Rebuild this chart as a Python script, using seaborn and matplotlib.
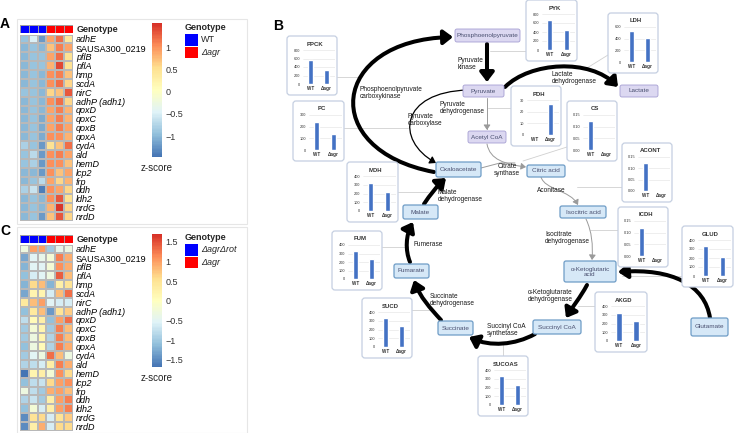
import numpy as np
import pandas as pd
import matplotlib
matplotlib.use("Agg")
import matplotlib.pyplot as plt
import seaborn as sns
from matplotlib.colors import ListedColormap, LinearSegmentedColormap
from matplotlib.patches import FancyBboxPatch, FancyArrowPatch, Rectangle
from matplotlib.path import Path

sns.set_theme(style="white")
plt.rcParams["font.family"] = ["Liberation Sans", "DejaVu Sans"]

# ---------------- data ----------------
genes = ["adhE", "SAUSA300_0219", "pflB", "pflA", "hmp", "scdA", "nirC",
         "adhP (adh1)", "qoxD", "qoxC", "qoxB", "qoxA", "cydA", "ald", "hemD",
         "lcp2", "frp", "ddh", "ldh2", "nrdG", "nrdD"]

# panel A z-scores: WT x3, Δagr x3
zscore_a = [
    [-0.9, -0.5, -1.2, 0.9, 1.2, 0.4],
    [-1.0, -0.9, -1.0, 0.7, 1.1, 0.9],
    [-1.0, -0.9, -0.9, 0.9, 1.2, 0.5],
    [-1.0, -0.9, -0.9, 0.8, 1.4, 0.5],
    [-1.0, -0.9, -1.0, 1.0, 1.1, 0.7],
    [-1.0, -0.9, -1.0, 1.0, 1.2, 0.6],
    [-0.9, -0.9, -1.0, 0.6, 0.7, 1.3],
    [-1.0, -0.9, -1.0, 1.0, 1.2, 0.6],
    [-1.0, -0.9, -1.0, 0.9, 1.1, 0.8],
    [-1.0, -0.9, -1.1, 0.9, 1.1, 0.8],
    [-1.0, -0.9, -1.1, 0.9, 1.1, 0.9],
    [-1.0, -0.9, -1.1, 1.0, 1.0, 0.8],
    [-0.8, -0.9, -1.2, 0.5, 0.7, 1.2],
    [-0.9, -0.7, -1.2, 1.0, 1.1, 0.9],
    [-0.9, -0.8, -1.2, 1.0, 1.0, 0.7],
    [-1.0, -1.0, -1.2, 1.0, 0.7, 0.9],
    [-1.0, -0.9, -0.7, 0.9, 0.6, 0.8],
    [-0.8, -0.6, -1.4, 1.0, 0.9, 0.6],
    [-1.0, -0.9, -1.0, 1.0, 1.3, 0.5],
    [-1.0, -0.9, -1.0, 0.8, 1.5, 0.6],
    [-1.0, -0.9, -1.2, 0.7, 1.3, 0.6],
]
groups_a = ["WT", "Δagr"]

# panel C z-scores: ΔagrΔrot x3, Δagr x3
zscore_c = [
    [-0.3, 1.0, 1.0, -1.0, -0.4, -0.3],
    [-1.3, -0.5, -0.4, -0.2, 1.2, 0.9],
    [-1.2, -0.5, -0.5, -0.2, 1.1, 0.9],
    [-1.1, -0.6, -0.5, -0.3, 1.4, 0.8],
    [-1.2, 0.6, 0.8, -1.2, 0.3, 0.5],
    [-1.3, 0.2, 0.2, -0.6, 0.8, 1.3],
    [0.4, 0.8, 1.0, -0.5, -0.6, -0.6],
    [-1.1, 0.4, 0.8, -1.4, 0.5, 0.7],
    [-0.8, 0.1, 0.3, -1.1, 1.0, 1.3],
    [-1.0, -0.2, 0.2, -1.0, 1.2, 0.8],
    [-1.0, -0.3, 0.2, -0.9, 1.2, 0.8],
    [-1.1, -0.3, 0.1, -0.9, 1.2, 0.9],
    [-1.0, -0.5, -0.3, 1.3, 0.8, -0.3],
    [-0.9, -0.8, -0.6, 0.3, 1.2, 0.9],
    [-1.7, 0.2, 0.3, -0.2, 1.1, 0.6],
    [-1.1, -0.8, -0.7, 0.6, 1.0, 1.1],
    [-0.3, -0.8, -1.0, 0.9, 1.0, 0.8],
    [-0.9, -0.7, -1.0, 0.3, 1.0, 1.2],
    [-1.1, -0.2, -0.6, 0.3, 1.0, 1.2],
    [-1.5, 0.5, 0.6, -0.6, 0.5, 0.7],
    [-1.5, 0.3, 0.9, -0.6, 0.6, 0.6],
]
groups_c = ["ΔagrΔrot", "Δagr"]

# enzyme activity insets (WT vs Δagr)
enzymes = ["PPCK", "PC", "MDH", "FUM", "SUCD", "SUCOAS", "AKGD", "GLUD",
           "ICDH", "ACONT", "CS", "PDH", "PYK", "LDH"]
activity_wt = [555, 240, 320, 330, 326, 329, 322, 330, 0.122, 0.124, 0.124, 0, 660, 530]
activity_agr = [338, 137, 222, 232, 235, 232, 232, 206, 0, 0, 0, 27, 434, 406]
axis_max = [800, 300, 400, 400, 400, 400, 400, 400, 0.15, 0.15, 0.15, 30, 800, 600]
axis_step = [200, 100, 100, 100, 100, 100, 100, 100, 0.05, 0.05, 0.05, 10, 200, 200]
bar_labels = ["WT", "Δagr"]

# pheatmap default palette
heat_colors = ["#4575B4", "#91BFDB", "#E0F3F8", "#FFFFBF", "#FEE090", "#FC8D59", "#D73027"]
heat_cmap = LinearSegmentedColormap.from_list("pheat", heat_colors, N=100)

# ---------------- layout (pixels) ----------------
W, H = 734, 433
inset_boxes = {
    "PPCK": (287, 36, 50, 59), "PC": (293, 101, 51, 60), "MDH": (347, 162, 51, 60),
    "FUM": (332, 231, 50, 59), "SUCD": (362, 298, 50, 60), "SUCOAS": (478, 356, 50, 60),
    "AKGD": (595, 292, 52, 60), "GLUD": (682, 226, 51, 61), "ICDH": (618, 207, 50, 60),
    "ACONT": (622, 143, 50, 59), "CS": (567, 101, 50, 60), "PDH": (511, 86, 50, 60),
    "PYK": (526, 0, 51, 61), "LDH": (608, 13, 50, 60),
}
nodes = [
    ("Phosphoenolpyruvate", 455, 29, 520, 42, "p"),
    ("Pyruvate", 463, 85, 504, 97, "p"),
    ("Lactate", 620, 85, 658, 97, "p"),
    ("Acetyl CoA", 468, 131, 506, 143, "p"),
    ("Oxaloacetate", 436, 162, 481, 177, "b"),
    ("Citric acid", 527, 165, 565, 177, "b"),
    ("Malate", 403, 205, 438, 219, "b"),
    ("Isocitric acid", 560, 206, 606, 218, "b"),
    ("Fumarate", 394, 264, 429, 278, "b"),
    ("α-Ketoglutaric\nacid", 564, 261, 616, 282, "b"),
    ("Succinate", 438, 321, 473, 335, "b"),
    ("Succinyl CoA", 533, 320, 581, 334, "b"),
    ("Glutamate", 691, 318, 728, 336, "b"),
]
reactions = [
    ("Pyruvate\nkinase", 458, 64, "left"),
    ("Lactate\ndehydrogenase", 552, 78, "left"),
    ("Phosphoenolpyruvate\ncarboxykinase", 360, 93, "left"),
    ("Pyruvate\ndehydrogenase", 440, 108, "left"),
    ("Pyruvate\ncarboxylase", 408, 120, "left"),
    ("Citrate\nsynthase", 507, 170, "center"),
    ("Aconitase", 537, 190, "left"),
    ("Isocitrate\ndehydrogenase", 545, 238, "left"),
    ("α-Ketoglutarate\ndehydrogenase", 528, 296, "left"),
    ("Succinyl CoA\nsynthetase", 487, 330, "left"),
    ("Succinate\ndehydrogenase", 430, 300, "left"),
    ("Fumerase", 413, 244, "left"),
    ("Malate\ndehydrogenase", 438, 196, "left"),
]


def frect(x, y, w, h):
    return [x / W, 1 - (y + h) / H, w / W, h / H]


fig = plt.figure(figsize=(W / 100, H / 100), dpi=100)
fig.patch.set_facecolor("white")

ov = fig.add_axes([0, 0, 1, 1])
ov.set_xlim(0, W)
ov.set_ylim(H, 0)
ov.axis("off")

# faint panel frames
for y0, hh in [(19, 205), (227, 206)]:
    ov.add_patch(Rectangle((17, y0), 230, hh, fill=False, ec="#e6e6e6", lw=0.8))

for letter, x, y in [("A", 5, 24), ("C", 5, 231), ("B", 278, 26)]:
    ov.text(x, y, letter, fontsize=10, weight="bold", ha="center", va="center", color="black")


# ---------------- heatmaps ----------------
def draw_heatmap(vals, groups, top, cb_top, cb_h, vmin, vmax, ticks, ticklabels):
    ann = fig.add_axes(frect(20, top, 52.5, 7.5))
    sns.heatmap(np.array([[0, 0, 0, 1, 1, 1]]), ax=ann, cmap=ListedColormap(["#0000FF", "#FF0000"]),
                vmin=0, vmax=1, cbar=False, linewidths=0.4, linecolor="#a0a0a0",
                xticklabels=False, yticklabels=False)
    ov.text(77, top + 4, "Genotype", fontsize=6.5, weight="bold", va="center", ha="left")

    ax = fig.add_axes(frect(20, top + 9.5, 52.5, 186.5))
    cax = fig.add_axes(frect(152, cb_top, 9.5, cb_h))
    df = pd.DataFrame(vals, index=genes)
    sns.heatmap(df, ax=ax, cmap=heat_cmap, vmin=vmin, vmax=vmax, cbar_ax=cax,
                linewidths=0.3, linecolor="#b8b8b8", xticklabels=False, yticklabels=True)
    ax.tick_params(axis="y", left=False, right=False, labelleft=False, labelright=True,
                   length=0, pad=2.5, labelsize=6.5, labelcolor="black")
    for t in ax.get_yticklabels():
        t.set_rotation(0)
        t.set_style("normal" if t.get_text().startswith("SAUSA") else "italic")
    cbar = ax.collections[0].colorbar
    cbar.outline.set_visible(False)
    cbar.set_ticks(ticks)
    cbar.set_ticklabels(ticklabels)
    cax.tick_params(length=0, labelsize=6.5, colors="#333333", pad=3)
    ov.text(157, cb_top + cb_h + 11, "z-score", fontsize=7, ha="center", va="center", color="#222222")

    # legend
    ov.text(185, top + 2, "Genotype", fontsize=6.5, weight="bold", va="center", ha="left")
    for i, (lab, col) in enumerate(zip(groups, ["#0000FF", "#FF0000"])):
        yy = top + 9 + i * 12.5
        ov.add_patch(Rectangle((185, yy), 13, 11.5, fc=col, ec="none"))
        ov.text(201, yy + 5.8, lab, fontsize=6.5, va="center", ha="left",
                style="normal" if lab == "WT" else "italic")


draw_heatmap(zscore_a, groups_a, 25, 23, 134, -1.47, 1.54,
             [-1, -0.5, 0, 0.5, 1], ["\u22121", "\u22120.5", "0", "0.5", "1"])
draw_heatmap(zscore_c, groups_c, 235, 234, 133, -1.68, 1.70,
             [-1.5, -1, -0.5, 0, 0.5, 1, 1.5],
             ["\u22121.5", "\u22121", "\u22120.5", "0", "0.5", "1", "1.5"])


# ---------------- pathway (panel B) ----------------
def arrow(pts, lw=2.9, color="black", hl=0.55, hw=0.42, ms=10, z=2):
    codes = [Path.MOVETO, Path.LINETO] if len(pts) == 2 else \
        [Path.MOVETO, Path.CURVE4, Path.CURVE4, Path.CURVE4]
    ov.add_patch(FancyArrowPatch(path=Path(pts, codes),
                                 arrowstyle=f"-|>,head_length={hl},head_width={hw}",
                                 mutation_scale=ms, lw=lw, color=color, zorder=z))


def line(pts, color="#d0d0d0", lw=0.6):
    xs, ys = zip(*pts)
    ov.plot(xs, ys, color=color, lw=lw, zorder=1)


# connector lines from enzyme boxes
line([(337, 77), (360, 77)])
line([(344, 128), (408, 128)])
line([(398, 192), (428, 192)])
line([(382, 247), (408, 247)])
line([(412, 310), (432, 310)])
line([(503, 356), (503, 342)])
line([(595, 306), (578, 306)])
line([(682, 276), (622, 276)])
line([(618, 230), (590, 230)])
line([(622, 187), (577, 187)])
line([(567, 147), (523, 161)])
line([(511, 108), (488, 108)])
line([(526, 51), (490, 51)])
line([(608, 55), (587, 68)])

grey = "#9a9a9a"
thin_kw = dict(lw=0.7, color=grey, hl=0.6, hw=0.4, ms=5)
arrow([(487, 44), (487, 82)])                                          # pyruvate kinase
arrow([(505, 87), (530, 62), (590, 58), (618, 87)])                    # lactate dh
arrow([(434, 172), (318, 150), (330, 40), (453, 37)])                  # PEP carboxykinase
arrow([(468, 90), (400, 92), (395, 140), (436, 163)], lw=0.9, hl=0.6, hw=0.4, ms=6)  # pyruvate carboxylase
arrow([(487, 98), (487, 130)], **thin_kw)                              # pyruvate dh
arrow([(487, 144), (490, 160), (505, 164), (526, 167)], **thin_kw)     # citrate synthase
line([(481, 168), (500, 163), (515, 163)], color=grey, lw=0.7)
arrow([(541, 177), (545, 190), (570, 190), (578, 205)], **thin_kw)     # aconitase
arrow([(586, 219), (592, 232), (593, 245), (592, 260)], **thin_kw)     # isocitrate dh
arrow([(587, 285), (580, 298), (573, 306), (566, 318)])                # aKG dh
arrow([(535, 334), (515, 345), (490, 347), (469, 337)])                # succinyl CoA synthetase
arrow([(441, 320), (430, 308), (420, 297), (414, 280)])                # succinate dh
arrow([(410, 262), (405, 250), (406, 235), (413, 222)])                # fumarase
arrow([(424, 204), (430, 195), (437, 186), (446, 178)])                # malate dh
arrow([(710, 318), (705, 285), (672, 268), (618, 272)])                # glutamate dh

for label, x0, y0, x1, y1, kind in nodes:
    fc, ec, lw = ("#dcd8f1", "#a59ed2", 0.6) if kind == "p" else ("#d6e8f7", "#6e9cc6", 0.9)
    ov.add_patch(FancyBboxPatch((x0 + 1, y0 + 1), x1 - x0 - 2, y1 - y0 - 2,
                                boxstyle="round,pad=1,rounding_size=2", fc=fc, ec=ec, lw=lw, zorder=3))
    ov.text((x0 + x1) / 2, (y0 + y1) / 2, label, fontsize=4.6, ha="center", va="center",
            color="#4a5070", linespacing=1.0, zorder=4)

for label, x, y, ha in reactions:
    ov.text(x, y, label, fontsize=4.7, ha=ha, va="center", color="#1a1a1a", linespacing=1.0, zorder=4)

# enzyme activity insets
for i, name in enumerate(enzymes):
    x, y, w, h = inset_boxes[name]
    ov.add_patch(FancyBboxPatch((x + 1.5, y + 1.5), w - 3, h - 3,
                                boxstyle="round,pad=1.5,rounding_size=3",
                                fc="white", ec="#c5cfe1", lw=0.9, zorder=3))
    ov.text(x + w / 2 + 3, y + 8, name, fontsize=4.3, weight="bold", ha="center", va="center",
            color="#333333", zorder=4)
    bx = fig.add_axes(frect(x + 15.5, y + 14, w - 18, h - 25))
    bx.set_facecolor("none")
    sns.barplot(x=bar_labels, y=[activity_wt[i], activity_agr[i]], ax=bx,
                color="#4472C4", saturation=1, width=0.32)
    step = axis_step[i]
    ticks = np.arange(0, axis_max[i] + step / 2, step)
    bx.set_ylim(0, axis_max[i])
    bx.set_yticks(ticks)
    fmt = "{:.2f}" if step < 1 else "{:.0f}"
    bx.set_yticklabels([fmt.format(t) for t in ticks])
    bx.grid(axis="y", color="#e2e2e2", lw=0.4)
    bx.set_axisbelow(True)
    for s in bx.spines.values():
        s.set_visible(False)
    bx.tick_params(axis="y", length=0, pad=1.5, labelsize=2.8, labelcolor="#333333")
    bx.tick_params(axis="x", length=0, pad=1.5, labelsize=3.3, labelcolor="#333333")
    for t in bx.get_xticklabels():
        t.set_fontweight("bold")
    bx.set_xlabel("")
    bx.set_ylabel("")

fig.savefig("out.png", dpi=100, facecolor="white")
